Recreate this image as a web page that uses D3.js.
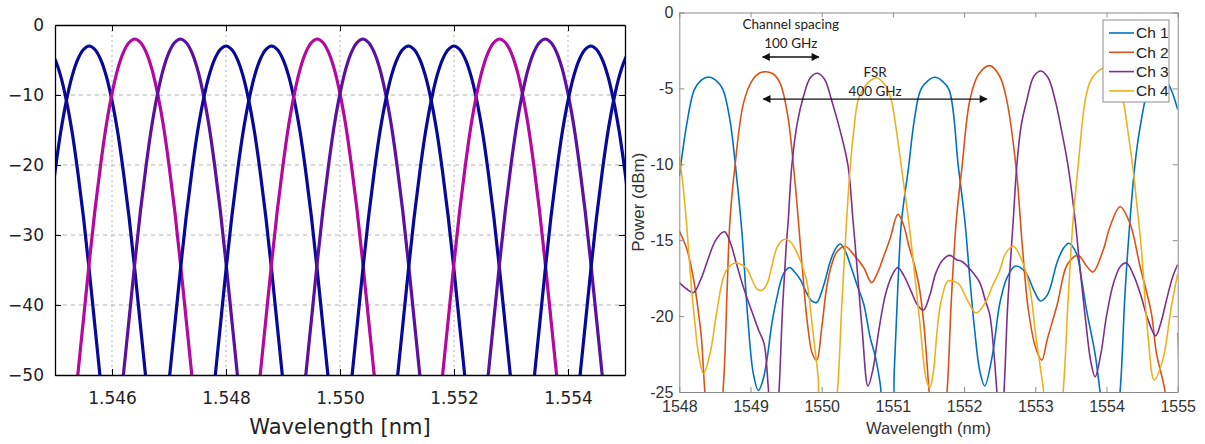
<!DOCTYPE html>
<html>
<head>
<meta charset="utf-8">
<script src="https://cdn.jsdelivr.net/npm/d3@7"></script>
<style>
  body { margin: 0; background: #fff; }
  .lgrid line { stroke: #b0b0b0; stroke-width: 1; }
</style>
</head>
<body>
<svg id="chart" width="1205" height="444"></svg>
<script>
// ---------- left panel data (simulated filter responses) ----------
const leftXTicks = [1.546, 1.548, 1.550, 1.552, 1.554];
const leftYTicks = [0, -10, -20, -30, -40, -50];
// channel peaks (wavelength in um, peak level in dB)
const leftPeakWl = [1.5448, 1.5456, 1.5464, 1.5472, 1.5480, 1.5488, 1.5496,
                    1.5504, 1.5512, 1.5520, 1.5528, 1.5536, 1.5544, 1.5552];
const leftPeakDb = [-3, -3, -2, -2, -3, -3, -2, -2, -3, -3, -2, -2, -3, -3];
const leftPeakColor = ["#08089a", "#08089a", "#b4089e", "#5c10a2",
                       "#08089a", "#08089a", "#b4089e", "#5c10a2",
                       "#08089a", "#08089a", "#b4089e", "#5c10a2",
                       "#08089a", "#08089a"];
// lobe shape: offset from peak (nm) and drop below peak (dB)
const lobeOffsetNm = [-1.1, -1.0, -0.9, -0.8, -0.7, -0.6, -0.5, -0.4, -0.3, -0.2, -0.1, 0,
                      0.1, 0.2, 0.3, 0.4, 0.5, 0.6, 0.7, 0.8, 0.9, 1.0, 1.1];
const lobeDropDb = [57, 48, 40, 32, 24.5, 18, 12.3, 7.8, 4.3, 1.9, 0.5, 0,
                    0.5, 1.9, 4.3, 7.8, 12.3, 18, 24.5, 32, 40, 48, 57];

// ---------- right panel data (measured spectra) ----------
const rightXTicks = [1548, 1549, 1550, 1551, 1552, 1553, 1554, 1555];
const rightYTicks = [0, -5, -10, -15, -20, -25];
const channelNames = ["Ch 1", "Ch 2", "Ch 3", "Ch 4"];
const channelColors = ["#0072BD", "#D95319", "#7E2F8E", "#EDB120"];

const ch1 = [
  [1548.00, -10.8], [1548.11, -7.2], [1548.21, -5.1], [1548.31, -4.45], [1548.41, -4.25],
  [1548.51, -4.45], [1548.61, -5.05], [1548.71, -7.05], [1548.80, -10.6], [1548.88, -14.5],
  [1548.96, -20.0], [1549.04, -23.8], [1549.11, -24.9], [1549.17, -24.3], [1549.23, -22.9],
  [1549.30, -20.5], [1549.37, -18.8], [1549.46, -17.25], [1549.55, -16.8], [1549.62, -17.1],
  [1549.70, -17.6], [1549.78, -18.4], [1549.86, -19.0], [1549.93, -19.1], [1550.02, -18.1],
  [1550.12, -16.4], [1550.19, -15.6], [1550.26, -15.25], [1550.33, -15.7], [1550.40, -16.6],
  [1550.50, -18.0], [1550.59, -19.2], [1550.68, -21.4], [1550.75, -22.6], [1550.82, -24.4],
  [1550.90, -27.5], [1550.97, -27.5], [1551.02, -23.5], [1551.07, -18.0], [1551.12, -13.8],
  [1551.22, -10.2], [1551.30, -7.1], [1551.39, -5.1], [1551.49, -4.5], [1551.59, -4.27],
  [1551.69, -4.5], [1551.79, -5.1], [1551.92, -10.2], [1552.01, -13.7], [1552.08, -17.5],
  [1552.15, -21.0], [1552.22, -23.6], [1552.29, -24.6], [1552.40, -22.5], [1552.50, -19.2],
  [1552.60, -17.5], [1552.72, -16.7], [1552.86, -17.1], [1552.98, -18.3], [1553.07, -19.0],
  [1553.17, -18.6], [1553.31, -16.4], [1553.40, -15.5], [1553.47, -15.2], [1553.58, -15.9],
  [1553.65, -17.6], [1553.72, -19.6], [1553.84, -22.5], [1553.91, -25.0], [1553.98, -27.5],
  [1554.12, -27.5], [1554.19, -25.0], [1554.26, -18.5], [1554.33, -13.7], [1554.40, -10.0],
  [1554.47, -7.6], [1554.58, -5.1], [1554.66, -4.4], [1554.74, -4.3], [1554.82, -4.5],
  [1554.89, -4.9], [1555.00, -6.4]
];
const ch2 = [
  [1548.00, -14.4], [1548.10, -15.5], [1548.16, -16.6], [1548.22, -18.1], [1548.27, -19.8],
  [1548.31, -21.4], [1548.36, -25.0], [1548.42, -27.5], [1548.55, -27.5], [1548.62, -24.5],
  [1548.67, -18.5], [1548.71, -13.8], [1548.78, -10.2], [1548.90, -6.0], [1549.02, -4.5],
  [1549.12, -4.0], [1549.22, -3.9], [1549.32, -4.05], [1549.42, -4.7], [1549.52, -6.7],
  [1549.62, -10.9], [1549.72, -16.4], [1549.80, -20.5], [1549.87, -22.5], [1549.93, -22.9],
  [1550.00, -20.8], [1550.07, -18.1], [1550.14, -16.6], [1550.21, -15.8], [1550.33, -15.4],
  [1550.44, -15.9], [1550.59, -16.8], [1550.70, -17.8], [1550.78, -17.2], [1550.86, -16.2],
  [1550.96, -14.9], [1551.07, -13.3], [1551.15, -14.0], [1551.22, -15.3], [1551.30, -16.6],
  [1551.37, -18.1], [1551.43, -20.3], [1551.47, -22.5], [1551.51, -25.0], [1551.58, -27.5],
  [1551.70, -27.5], [1551.76, -25.0], [1551.82, -19.0], [1551.89, -13.7], [1551.97, -10.2],
  [1552.08, -5.8], [1552.20, -4.1], [1552.36, -3.5], [1552.50, -4.2], [1552.60, -5.8],
  [1552.73, -10.2], [1552.82, -15.5], [1552.90, -19.5], [1553.00, -22.0], [1553.09, -22.9],
  [1553.17, -21.5], [1553.31, -19.2], [1553.45, -16.6], [1553.60, -16.0], [1553.72, -16.7],
  [1553.81, -17.1], [1553.95, -15.7], [1554.05, -14.1], [1554.19, -12.8], [1554.33, -13.9],
  [1554.47, -16.7], [1554.63, -19.8], [1554.70, -22.4], [1554.82, -24.9], [1554.88, -27.5],
  [1554.97, -27.5], [1555.00, -21.1]
];
const ch3 = [
  [1548.00, -17.8], [1548.10, -18.2], [1548.20, -18.45], [1548.30, -17.6], [1548.40, -16.3],
  [1548.50, -15.1], [1548.60, -14.5], [1548.64, -14.45], [1548.72, -15.2], [1548.80, -16.5],
  [1548.90, -18.1], [1549.05, -20.1], [1549.12, -21.0], [1549.19, -21.8], [1549.25, -24.7],
  [1549.30, -27.5], [1549.36, -27.5], [1549.40, -25.0], [1549.45, -19.5], [1549.50, -15.5],
  [1549.53, -13.7], [1549.58, -10.1], [1549.66, -7.2], [1549.74, -5.6], [1549.84, -4.3],
  [1549.94, -4.0], [1550.04, -4.4], [1550.14, -5.8], [1550.26, -7.8], [1550.37, -10.1],
  [1550.44, -13.7], [1550.50, -17.0], [1550.57, -21.0], [1550.65, -24.6], [1550.72, -23.5],
  [1550.80, -21.0], [1550.90, -18.5], [1551.00, -17.2], [1551.07, -16.8], [1551.15, -17.3],
  [1551.25, -18.3], [1551.35, -19.3], [1551.43, -19.6], [1551.52, -18.6], [1551.60, -17.2],
  [1551.70, -16.3], [1551.80, -16.0], [1551.90, -16.3], [1551.97, -16.4], [1552.10, -17.0],
  [1552.22, -17.8], [1552.30, -19.0], [1552.36, -19.9], [1552.42, -22.5], [1552.47, -25.5],
  [1552.52, -27.5], [1552.56, -25.0], [1552.61, -19.5], [1552.65, -16.5], [1552.69, -13.7],
  [1552.74, -10.1], [1552.80, -7.5], [1552.88, -5.8], [1552.98, -4.2], [1553.08, -3.85],
  [1553.18, -4.3], [1553.28, -5.8], [1553.37, -7.8], [1553.46, -10.1], [1553.56, -13.7],
  [1553.62, -16.5], [1553.70, -20.0], [1553.78, -23.0], [1553.84, -24.0], [1553.92, -22.5],
  [1554.00, -20.0], [1554.10, -17.8], [1554.20, -16.7], [1554.28, -16.5], [1554.38, -17.3],
  [1554.48, -18.6], [1554.58, -20.2], [1554.69, -21.3], [1554.76, -20.5], [1554.85, -18.8],
  [1554.93, -17.4], [1555.00, -16.6]
];
const ch4 = [
  [1548.00, -9.5], [1548.05, -11.3], [1548.10, -13.8], [1548.17, -18.1], [1548.22, -20.5],
  [1548.27, -22.5], [1548.34, -23.8], [1548.43, -22.5], [1548.52, -19.9], [1548.60, -17.8],
  [1548.66, -17.0], [1548.78, -16.5], [1548.87, -16.6], [1548.95, -16.9], [1549.09, -18.2],
  [1549.16, -18.3], [1549.23, -17.9], [1549.30, -16.7], [1549.37, -15.5], [1549.45, -15.0],
  [1549.51, -14.95], [1549.58, -15.2], [1549.65, -15.8], [1549.72, -16.6], [1549.79, -17.7],
  [1549.86, -20.3], [1549.90, -22.0], [1549.95, -24.0], [1550.00, -27.5], [1550.15, -27.5],
  [1550.22, -25.0], [1550.28, -19.5], [1550.35, -13.7], [1550.40, -10.2], [1550.45, -7.8],
  [1550.51, -5.8], [1550.60, -4.9], [1550.68, -4.5], [1550.77, -4.3], [1550.86, -4.6],
  [1550.92, -5.0], [1550.98, -5.8], [1551.05, -7.8], [1551.12, -10.2], [1551.22, -13.7],
  [1551.30, -17.0], [1551.38, -20.5], [1551.47, -24.2], [1551.52, -24.7], [1551.57, -23.6],
  [1551.62, -21.0], [1551.67, -19.2], [1551.77, -17.7], [1551.85, -17.7], [1551.93, -17.9],
  [1552.03, -18.8], [1552.17, -19.8], [1552.31, -19.0], [1552.40, -18.0], [1552.50, -17.0],
  [1552.58, -15.9], [1552.69, -15.4], [1552.80, -16.2], [1552.92, -18.1], [1553.01, -21.4],
  [1553.11, -24.7], [1553.18, -27.5], [1553.32, -27.5], [1553.39, -25.0], [1553.46, -19.0],
  [1553.53, -13.7], [1553.60, -10.2], [1553.70, -5.8], [1553.77, -4.55], [1553.85, -4.0],
  [1553.95, -3.7], [1554.05, -4.0], [1554.15, -5.0], [1554.23, -5.8], [1554.30, -7.8],
  [1554.37, -10.2], [1554.43, -12.8], [1554.49, -15.6], [1554.58, -21.1], [1554.67, -24.2],
  [1554.79, -22.9], [1554.91, -19.4], [1555.00, -17.2]
];
const channels = [ch1, ch2, ch3, ch4];

// annotation positions in data units (wavelength nm, dBm)
const spacingArrow = [1549.17, 1549.96, -2.93];
const fsrArrow = [1549.18, 1552.32, -5.7];

const svg = d3.select("#chart");

// ================= LEFT PANEL =================
const L = { left: 55, right: 625, top: 25, bottom: 375 };
const xL = d3.scaleLinear().domain([1.545, 1.555]).range([L.left, L.right]);
const yL = d3.scaleLinear().domain([-50, 0]).range([L.bottom, L.top]);

svg.append("clipPath").attr("id", "clipL")
  .append("rect").attr("x", L.left).attr("y", L.top)
  .attr("width", L.right - L.left).attr("height", L.bottom - L.top);

// grid
const gl = svg.append("g").attr("class", "lgrid");
gl.selectAll("line.v").data(leftXTicks).enter().append("line")
  .attr("x1", d => xL(d)).attr("x2", d => xL(d))
  .attr("y1", L.top).attr("y2", L.bottom)
  .attr("stroke-dasharray", "2,3");
gl.selectAll("line.h").data(leftYTicks.filter(d => d > -50 && d < 0)).enter().append("line")
  .attr("x1", L.left).attr("x2", L.right)
  .attr("y1", d => yL(d)).attr("y2", d => yL(d))
  .attr("stroke-dasharray", "4,4");

// curves
const lineL = d3.line().x(d => xL(d[0])).y(d => yL(d[1])).curve(d3.curveCatmullRom);
const leftCurves = leftPeakWl.map((wl, i) => ({
  color: leftPeakColor[i],
  pts: lobeOffsetNm.map((o, j) => [wl + o / 1000, leftPeakDb[i] - lobeDropDb[j]])
}));
svg.append("g").attr("clip-path", "url(#clipL)")
  .selectAll("path").data(leftCurves).enter().append("path")
  .attr("d", d => lineL(d.pts))
  .attr("fill", "none")
  .attr("stroke", d => d.color)
  .attr("stroke-width", 3.2);

// axes
const minus = d => d < 0 ? "\u2212" + Math.abs(d) : String(d);
const axL = svg.append("g").attr("font-family", "DejaVu Sans").attr("fill", "#222");
axL.append("g").attr("transform", `translate(0,${L.bottom})`)
  .call(d3.axisBottom(xL).tickValues(leftXTicks).tickFormat(d3.format(".3f"))
    .tickSizeInner(-6).tickSizeOuter(0).tickPadding(17));
axL.append("g").attr("transform", `translate(0,${L.top})`)
  .call(d3.axisTop(xL).tickValues(leftXTicks).tickFormat("")
    .tickSizeInner(-6).tickSizeOuter(0));
axL.append("g").attr("transform", `translate(${L.left},0)`)
  .call(d3.axisLeft(yL).tickValues(leftYTicks).tickFormat(minus)
    .tickSizeInner(-6).tickSizeOuter(0).tickPadding(11));
axL.append("g").attr("transform", `translate(${L.right},0)`)
  .call(d3.axisRight(yL).tickValues(leftYTicks).tickFormat("")
    .tickSizeInner(-6).tickSizeOuter(0));
axL.selectAll("text").attr("font-size", 17).attr("fill", "#222").attr("font-family", "DejaVu Sans");
axL.selectAll("path.domain").attr("stroke", "#000").attr("stroke-width", 1.3);
axL.selectAll(".tick line").attr("stroke", "#000");

svg.append("text").attr("x", (L.left + L.right) / 2).attr("y", 434)
  .attr("text-anchor", "middle").attr("font-family", "DejaVu Sans")
  .attr("font-size", 21).attr("fill", "#222").text("Wavelength [nm]");

// ================= RIGHT PANEL =================
const R = { left: 679.3, right: 1177.7, top: 12.5, bottom: 392 };
const xR = d3.scaleLinear().domain([1548, 1555]).range([R.left, R.right]);
const yR = d3.scaleLinear().domain([-25, 0]).range([R.bottom, R.top]);

svg.append("clipPath").attr("id", "clipR")
  .append("rect").attr("x", R.left).attr("y", R.top)
  .attr("width", R.right - R.left).attr("height", R.bottom - R.top);

const lineR = d3.line().x(d => xR(d[0])).y(d => yR(d[1])).curve(d3.curveCatmullRom);
svg.append("g").attr("clip-path", "url(#clipR)")
  .selectAll("path").data(channels).enter().append("path")
  .attr("d", d => lineR(d))
  .attr("fill", "none")
  .attr("stroke", (d, i) => channelColors[i])
  .attr("stroke-width", 1.6);

const axR = svg.append("g");
axR.append("g").attr("transform", `translate(0,${R.bottom})`)
  .call(d3.axisBottom(xR).tickValues(rightXTicks).tickFormat(d3.format("d"))
    .tickSizeInner(-5).tickSizeOuter(0).tickPadding(9));
axR.append("g").attr("transform", `translate(0,${R.top})`)
  .call(d3.axisTop(xR).tickValues(rightXTicks).tickFormat("")
    .tickSizeInner(-5).tickSizeOuter(0));
axR.append("g").attr("transform", `translate(${R.left},0)`)
  .call(d3.axisLeft(yR).tickValues(rightYTicks).tickFormat(d => String(d))
    .tickSizeInner(-5).tickSizeOuter(0).tickPadding(6));
axR.append("g").attr("transform", `translate(${R.right},0)`)
  .call(d3.axisRight(yR).tickValues(rightYTicks).tickFormat("")
    .tickSizeInner(-5).tickSizeOuter(0));
axR.selectAll("text").attr("font-size", 16).attr("fill", "#333")
  .attr("font-family", "Liberation Sans, Arial, sans-serif");
axR.selectAll("path.domain").attr("stroke", "#8c8c8c").attr("stroke-width", 1);
axR.selectAll(".tick line").attr("stroke", "#8c8c8c");

svg.append("text").attr("x", (R.left + R.right) / 2).attr("y", 434)
  .attr("text-anchor", "middle").attr("font-family", "Liberation Sans, Arial, sans-serif")
  .attr("font-size", 16.5).attr("fill", "#333").text("Wavelength (nm)");
svg.append("text")
  .attr("transform", `translate(644,${(R.top + R.bottom) / 2}) rotate(-90)`)
  .attr("text-anchor", "middle").attr("font-family", "Liberation Sans, Arial, sans-serif")
  .attr("font-size", 17).attr("fill", "#333").text("Power (dBm)");

// arrows
const defs = svg.append("defs");
defs.append("marker").attr("id", "ah").attr("viewBox", "0 0 10 10")
  .attr("refX", 9).attr("refY", 5).attr("markerWidth", 10).attr("markerHeight", 8)
  .attr("markerUnits", "userSpaceOnUse").attr("orient", "auto-start-reverse")
  .append("path").attr("d", "M0,0 L10,5 L0,10 z").attr("fill", "#111");

[spacingArrow, fsrArrow].forEach(a => {
  svg.append("line")
    .attr("x1", xR(a[0])).attr("x2", xR(a[1]))
    .attr("y1", yR(a[2])).attr("y2", yR(a[2]))
    .attr("stroke", "#111").attr("stroke-width", 1.3)
    .attr("marker-start", "url(#ah)").attr("marker-end", "url(#ah)");
});

const annFont = "Lato, 'Open Sans', sans-serif";
const midSpacing = (spacingArrow[0] + spacingArrow[1]) / 2;
svg.append("text").attr("x", xR(midSpacing)).attr("y", 29)
  .attr("text-anchor", "middle").attr("font-family", annFont).attr("font-size", 13.5)
  .attr("fill", "#222").text("Channel spacing");
svg.append("text").attr("x", xR(midSpacing)).attr("y", 47.5)
  .attr("text-anchor", "middle").attr("font-family", annFont).attr("font-size", 13.5)
  .attr("fill", "#222").text("100 GHz");
svg.append("text").attr("x", xR(1550.75)).attr("y", 77)
  .attr("text-anchor", "middle").attr("font-family", annFont).attr("font-size", 13.5)
  .attr("fill", "#222").text("FSR");
svg.append("text").attr("x", xR(1550.75)).attr("y", 96)
  .attr("text-anchor", "middle").attr("font-family", annFont).attr("font-size", 13.5)
  .attr("fill", "#222").text("400 GHz");

// legend
const lg = svg.append("g").attr("transform", "translate(1103,20)");
lg.append("rect").attr("width", 66).attr("height", 82)
  .attr("fill", "#fff").attr("stroke", "#8c8c8c").attr("stroke-width", 1);
const le = lg.selectAll("g.e").data(channelNames).enter().append("g")
  .attr("transform", (d, i) => `translate(0,${13 + i * 19.3})`);
le.append("line").attr("x1", 6).attr("x2", 31)
  .attr("stroke", (d, i) => channelColors[i]).attr("stroke-width", 1.6);
le.append("text").attr("x", 33).attr("dy", "0.35em")
  .attr("font-family", "Liberation Sans, Arial, sans-serif").attr("font-size", 15.5)
  .attr("fill", "#222").text(d => d);
</script>
</body>
</html>
